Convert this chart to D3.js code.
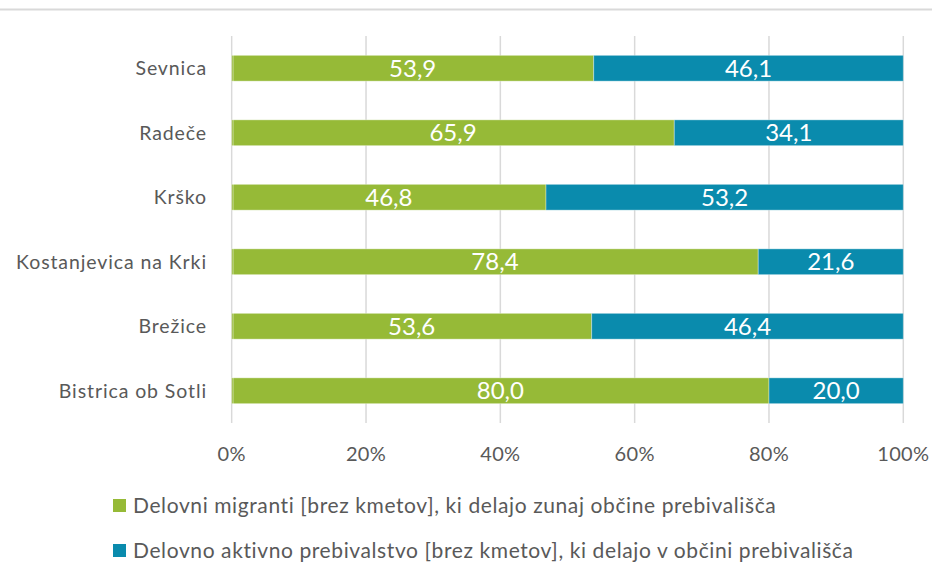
<!DOCTYPE html>
<html>
<head>
<meta charset="utf-8">
<script src="https://cdn.jsdelivr.net/npm/d3@7"></script>
<style>
  body { margin: 0; background: #fff; }
  svg { display: block; font-family: Lato, "Open Sans", sans-serif; }
</style>
</head>
<body>
<svg></svg>
<script>
const width = 932;
const height = 562;

const municipalities = ["Sevnica", "Radeče", "Krško", "Kostanjevica na Krki", "Brežice", "Bistrica ob Sotli"];
const migrants = [53.9, 65.9, 46.8, 78.4, 53.6, 80.0];
const residents = [46.1, 34.1, 53.2, 21.6, 46.4, 20.0];
const ticks = [0, 20, 40, 60, 80, 100];
const seriesNames = [
  "Delovni migranti [brez kmetov], ki delajo zunaj občine prebivališča",
  "Delovno aktivno prebivalstvo [brez kmetov], ki delajo v občini prebivališča"
];
const colors = ["#96ba37", "#0a8bad"];

const svg = d3.select("svg")
  .attr("width", width)
  .attr("height", height);

// thin rule across the top
svg.append("rect")
  .attr("x", 0)
  .attr("y", 8.5)
  .attr("width", width)
  .attr("height", 2)
  .attr("fill", "#d9d9d9");

const x = d3.scaleLinear()
  .domain([0, 100])
  .range([231.7, 903.3]);

const y = d3.scaleBand()
  .domain(municipalities)
  .range([36, 423])
  .paddingInner(0.6)
  .paddingOuter(0.3);

// gridlines
svg.append("g")
  .selectAll("line")
  .data(ticks)
  .join("line")
  .attr("x1", d => x(d))
  .attr("x2", d => x(d))
  .attr("y1", 36)
  .attr("y2", 423)
  .attr("stroke", "#d9d9d9")
  .attr("stroke-width", 1.5);

const rows = municipalities.map(function(m, i) {
  return { name: m, values: [migrants[i], residents[i]] };
});

const row = svg.append("g")
  .selectAll("g")
  .data(rows)
  .join("g")
  .attr("transform", d => `translate(0, ${y(d.name)})`);

row.selectAll("rect")
  .data(function(d) {
    let start = 0;
    return d.values.map(function(v, i) {
      const seg = { start: start, value: v, idx: i };
      start += v;
      return seg;
    });
  })
  .join("rect")
  .attr("x", d => x(d.start))
  .attr("y", 0)
  .attr("width", d => x(d.start + d.value) - x(d.start))
  .attr("height", y.bandwidth())
  .attr("fill", d => colors[d.idx])
  .attr("stroke", "#ffffff")
  .attr("stroke-opacity", 0.35)
  .attr("stroke-width", 1);

row.selectAll("text")
  .data(function(d) {
    let start = 0;
    return d.values.map(function(v) {
      const seg = { mid: start + v / 2, value: v };
      start += v;
      return seg;
    });
  })
  .join("text")
  .attr("x", d => x(d.mid))
  .attr("y", y.bandwidth() / 2)
  .attr("dy", "0.36em")
  .attr("text-anchor", "middle")
  .attr("fill", "#ffffff")
  .attr("font-size", 24)
  .text(d => d.value.toFixed(1).replace(".", ","));

// 0% line over the bars
svg.append("line")
  .attr("x1", x(0) + 1.5)
  .attr("x2", x(0) + 1.5)
  .attr("y1", 36)
  .attr("y2", 423)
  .attr("stroke", "#ffffff")
  .attr("stroke-opacity", 0.4)
  .attr("stroke-width", 1);

// category labels
svg.append("g")
  .selectAll("text")
  .data(municipalities)
  .join("text")
  .attr("x", 207)
  .attr("y", d => y(d) + y.bandwidth() / 2)
  .attr("dy", "0.36em")
  .attr("text-anchor", "end")
  .attr("fill", "#595959")
  .attr("font-size", 19.5)
  .attr("letter-spacing", 0.9)
  .text(d => d);

// tick labels
svg.append("g")
  .selectAll("text")
  .data(ticks)
  .join("text")
  .attr("x", d => x(d))
  .attr("y", 461)
  .attr("text-anchor", "middle")
  .attr("fill", "#595959")
  .attr("font-size", 20)
  .attr("letter-spacing", 0.3)
  .text(d => d + "%");

// legend
const legend = svg.append("g")
  .selectAll("g")
  .data(seriesNames)
  .join("g")
  .attr("transform", (d, i) => `translate(113, ${499 + i * 45})`);

legend.append("rect")
  .attr("width", 13)
  .attr("height", 13)
  .attr("fill", (d, i) => colors[i]);

legend.append("text")
  .attr("x", 20)
  .attr("y", 6.5)
  .attr("dy", "0.36em")
  .attr("fill", "#595959")
  .attr("font-size", 21)
  .attr("letter-spacing", 0.6)
  .text(d => d);
</script>
</body>
</html>
